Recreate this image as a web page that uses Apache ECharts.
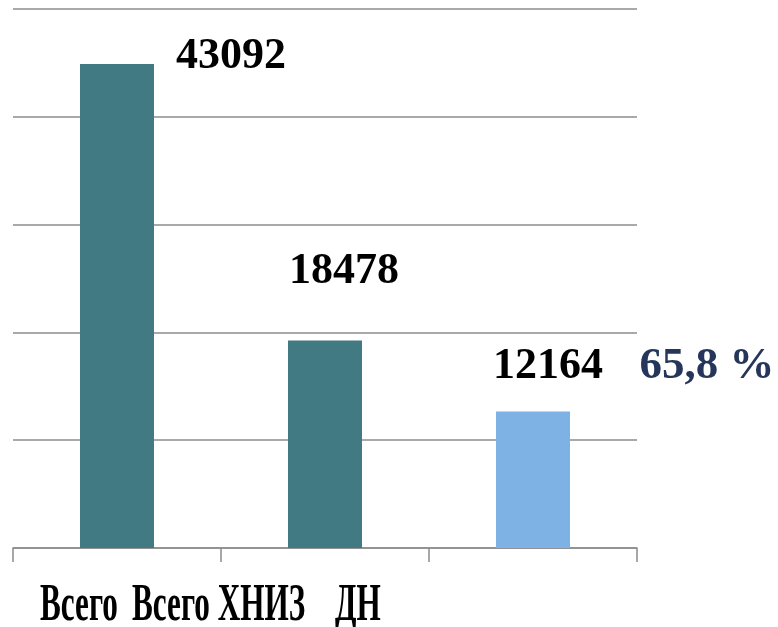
<!DOCTYPE html>
<html>
<head>
<meta charset="utf-8">
<script src="https://cdn.jsdelivr.net/npm/echarts@6/dist/echarts.min.js"></script>
<style>
  html, body { margin: 0; padding: 0; background: #fff; }
  #chart { width: 778px; height: 627px; }
</style>
</head>
<body>
<div id="chart"></div>
<script>
const categories = ['Всего', 'Всего ХНИЗ', 'ДН']
const values = [43092, 18478, 12164]
const barColors = ['#427a84', '#427a84', '#7eb1e4']
const dnShare = '65,8 %'

// labels were dragged around by hand in the original, so keep their offsets here
const labelOffsets = [[114, 15], [19, -47], [15, -23]]
const catLabelX = [40, 132, 335]

const chart = echarts.init(document.getElementById('chart'))

chart.setOption({
  animation: false,
  grid: { left: 13, right: 141, top: 9, bottom: 79 },
  xAxis: {
    type: 'category',
    data: categories,
    axisLine: { lineStyle: { color: '#8c8c8c', width: 1.5 } },
    axisTick: { show: true, length: 14, lineStyle: { color: '#8c8c8c', width: 1.5 } },
    axisLabel: { show: false }
  },
  yAxis: {
    type: 'value',
    min: 0,
    max: 48000,
    interval: 9600,
    axisLabel: { show: false },
    axisLine: { show: false },
    axisTick: { show: false },
    splitLine: { lineStyle: { color: '#8c8c8c', width: 1.5 } }
  },
  series: [{
    type: 'bar',
    barWidth: 74,
    data: values.map((v, i) => ({
      value: v,
      itemStyle: { color: barColors[i] },
      label: { offset: labelOffsets[i] }
    })),
    label: {
      show: true,
      position: 'top',
      distance: 0,
      color: '#000',
      fontFamily: 'Liberation Serif',
      fontWeight: 'bold',
      fontSize: 44
    }
  }],
  graphic: [
    ...categories.map((c, i) => ({
      type: 'text',
      x: catLabelX[i],
      y: 607,
      scaleX: 0.6,
      style: {
        text: c,
        fill: '#000',
        font: 'bold 52px "Liberation Serif"',
        textAlign: 'left',
        textVerticalAlign: 'middle'
      }
    })),
    {
      type: 'text',
      x: 707,
      y: 366,
      style: {
        text: dnShare,
        fill: '#25365a',
        font: 'bold 45px "Liberation Serif"',
        textAlign: 'center',
        textVerticalAlign: 'middle'
      }
    }
  ]
})
</script>
</body>
</html>
